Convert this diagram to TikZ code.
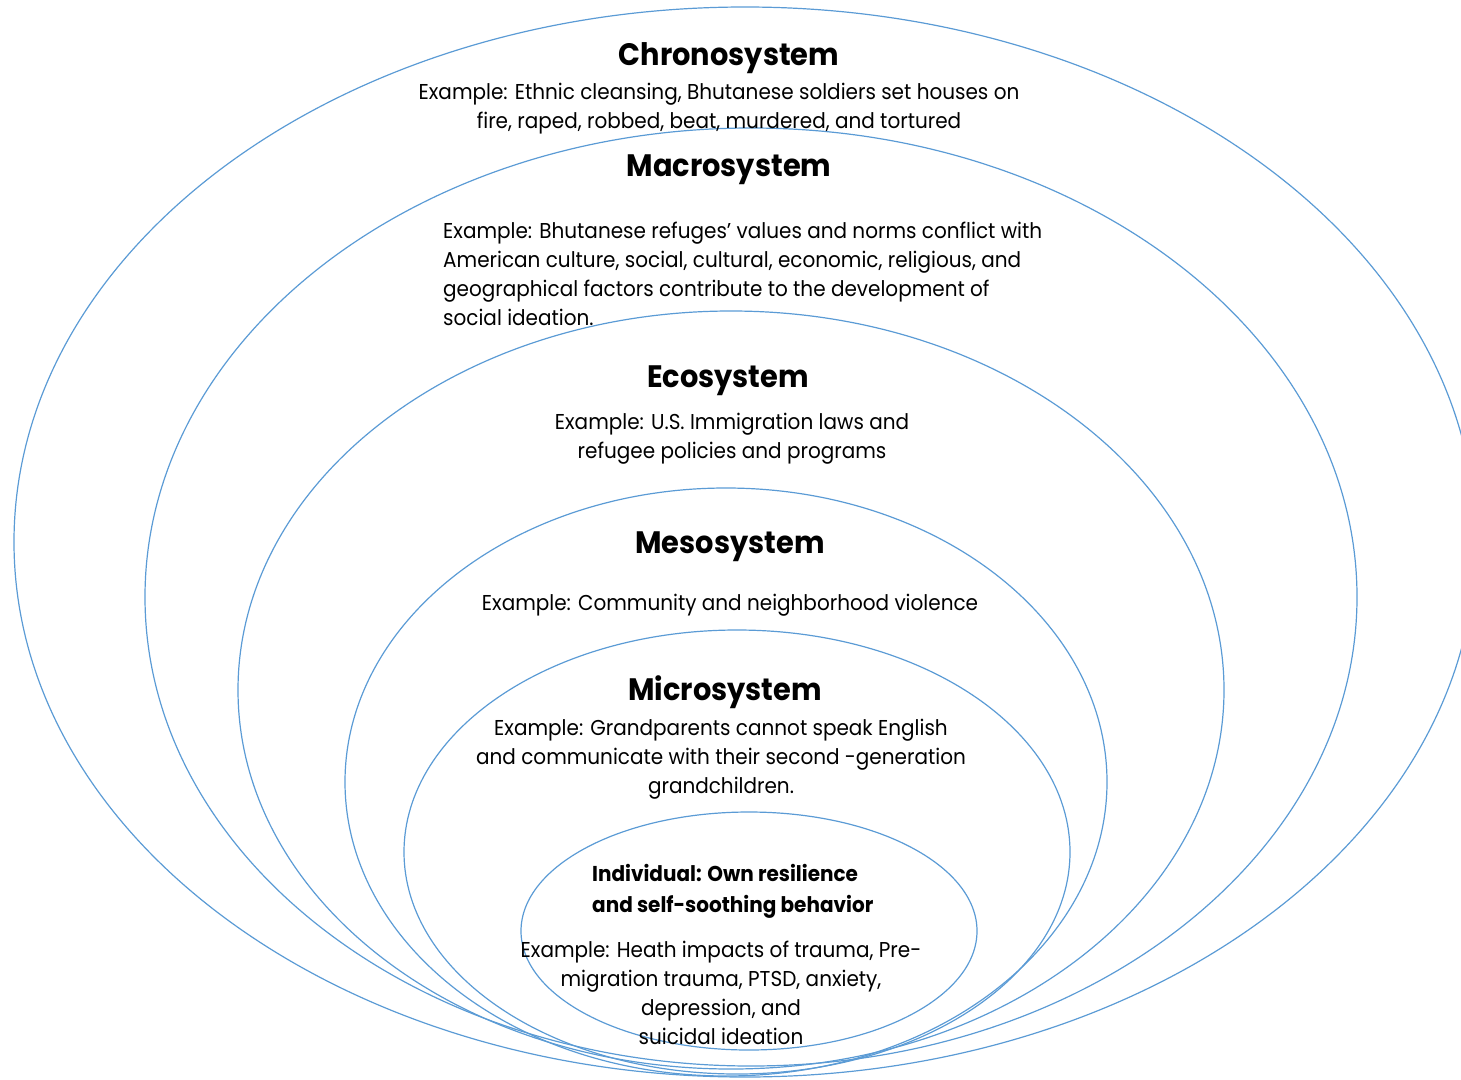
\documentclass[tikz,border=0pt]{standalone}
\usepackage{fontspec}
\setmainfont{Poppins}[FakeStretch=0.93]
\usetikzlibrary{shapes.geometric}
\definecolor{ringblue}{HTML}{5B9BD5}
\tikzset{
  ring/.style={draw=ringblue, line width=1.2pt, shape=ellipse, inner sep=0pt, outer sep=0pt},
  titletext/.style={font=\bfseries\fontsize{31}{35}\selectfont, inner sep=0pt},
  bodytext/.style={font=\fontsize{21.5}{29}\selectfont, align=center, inner sep=0pt},
  indtext/.style={font=\bfseries\fontsize{21.5}{31}\selectfont, align=left, inner sep=0pt}
}
\begin{document}
\begin{tikzpicture}[x=1pt,y=-1pt]
\useasboundingbox (0,0) rectangle (1461,1079);
\clip (0,0) rectangle (1461,1079);
% rings
\node[ring, minimum width=1462pt, minimum height=1070pt] (chrono) at (745,542) {};
\node[ring, minimum width=1212pt, minimum height=938pt] (macro) at (751,597) {};
\node[ring, minimum width=986pt, minimum height=758pt] (eco) at (731,690) {};
\node[ring, minimum width=762pt, minimum height=588pt] (meso) at (726,782) {};
\node[ring, minimum width=666pt, minimum height=444pt] (micro) at (737,852) {};
\node[ring, minimum width=456pt, minimum height=238pt] (indiv) at (749,931) {};
% texts
\node[titletext] (chronot) at (729,58) {Chronosystem};
\node[bodytext] (chronob) at (719,109) {Example: Ethnic cleansing, Bhutanese soldiers set houses on\\fire, raped, robbed, beat, murdered, and tortured};
\node[titletext] (macrot) at (729,170) {Macrosystem};
\node[bodytext, align=left, anchor=west] (macrob) at (443,274) {Example: Bhutanese refuges’ values and norms conflict with\\American culture, social, cultural, economic, religious, and\\geographical factors contribute to the development of\\social ideation.};
\node[titletext] (ecot) at (728,381) {Ecosystem};
\node[bodytext] (ecob) at (732,439) {Example: U.S. Immigration laws and\\refugee policies and programs};
\node[titletext] (mesot) at (730,547) {Mesosystem};
\node[bodytext] (mesob) at (730,605) {Example: Community and neighborhood violence};
\node[titletext] (microt) at (725,692) {Microsystem};
\node[bodytext] (microb) at (721,759) {Example: Grandparents cannot speak English\\and communicate with their second -generation\\grandchildren.};
\node[indtext, anchor=west] (indt) at (592,891) {Individual: Own resilience\\and self-soothing behavior};
\node[bodytext] (indb) at (721,993) {Example: Heath impacts of trauma, Pre-\\migration trauma, PTSD, anxiety,\\depression, and\\suicidal ideation};
\end{tikzpicture}
\end{document}
